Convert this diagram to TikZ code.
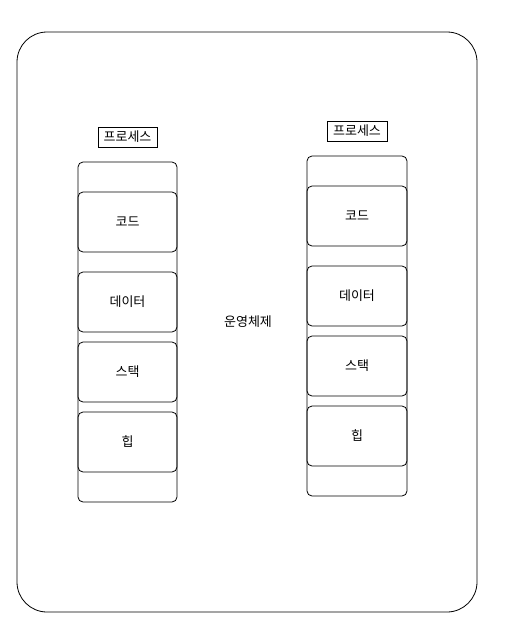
\documentclass[tikz,border=0pt]{standalone}
\usepackage{fontspec}
\setmainfont{Noto Sans CJK KR}
\usetikzlibrary{positioning}

\begin{document}
\begin{tikzpicture}[x=1pt, y=-1pt, line width=0.8pt, outer sep=0pt, font=\fontsize{13}{15}\selectfont]
    \useasboundingbox (0,0) rectangle (511,640);

    % OS frame
    \node (os) [rectangle, draw, rounded corners=30pt, minimum width=460pt, minimum height=580pt, anchor=north west] at (17,32) {};
    \node (osname) at (248,322) {운영체제};

    % Left process
    \node (lproc) [rectangle, draw, rounded corners=5pt, minimum width=99pt, minimum height=340pt, anchor=north west] at (78,162) {};
    \node (lcode) [rectangle, draw, rounded corners=5pt, minimum width=99pt, minimum height=60pt, anchor=north west] at (78,192) {코드};
    \node (ldata) [rectangle, draw, rounded corners=5pt, minimum width=99pt, minimum height=60pt, below=20pt of lcode] {데이터};
    \node (lstack) [rectangle, draw, rounded corners=5pt, minimum width=99pt, minimum height=60pt, below=10pt of ldata] {스택};
    \node (lheap) [rectangle, draw, rounded corners=5pt, minimum width=99pt, minimum height=60pt, below=10pt of lstack] {힙};
    \node (llabel) [rectangle, draw, minimum width=59pt, minimum height=20pt, inner sep=1pt] at (127.5,137) {프로세스};

    % Right process
    \node (rproc) [rectangle, draw, rounded corners=5pt, minimum width=100pt, minimum height=340pt, anchor=north west] at (307,156) {};
    \node (rcode) [rectangle, draw, rounded corners=5pt, minimum width=100pt, minimum height=60pt, anchor=north west] at (307,186) {코드};
    \node (rdata) [rectangle, draw, rounded corners=5pt, minimum width=100pt, minimum height=60pt, below=20pt of rcode] {데이터};
    \node (rstack) [rectangle, draw, rounded corners=5pt, minimum width=100pt, minimum height=60pt, below=10pt of rdata] {스택};
    \node (rheap) [rectangle, draw, rounded corners=5pt, minimum width=100pt, minimum height=60pt, below=10pt of rstack] {힙};
    \node (rlabel) [rectangle, draw, minimum width=60pt, minimum height=20pt, inner sep=1pt] at (357,131) {프로세스};
\end{tikzpicture}
\end{document}
